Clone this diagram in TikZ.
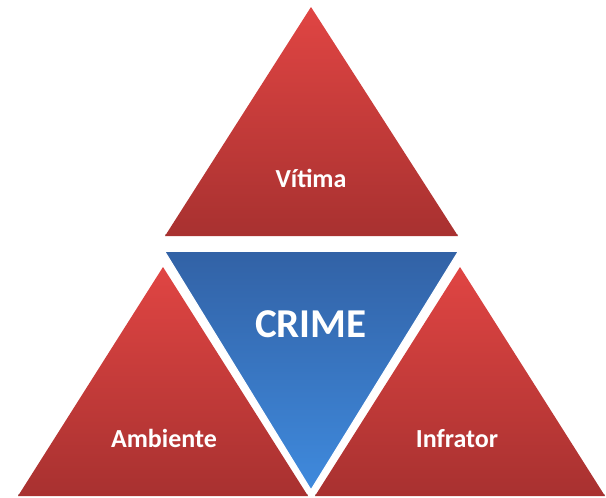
\documentclass[tikz,border=0pt]{standalone}
\usepackage{fontspec}
\setmainfont{Carlito}
\definecolor{redtop}{HTML}{E04543}
\definecolor{redbot}{HTML}{A83130}
\definecolor{bluetop}{HTML}{3262A6}
\definecolor{bluebot}{HTML}{3F8ADD}
\definecolor{shadowgray}{HTML}{B8B8B8}
\begin{document}
\begin{tikzpicture}[x=1pt,y=-1pt,
  redtri/.style={top color=redtop,bottom color=redbot},
  bluetri/.style={top color=bluetop,bottom color=bluebot},
  lbl/.style={text=white,font=\bfseries\fontsize{26}{30}\selectfont,anchor=base,inner sep=0pt},
  biglbl/.style={text=white,font=\bfseries\fontsize{41}{46}\selectfont,anchor=base,inner sep=0pt},
  shad/.style={draw=shadowgray,line width=1.5pt}]
\useasboundingbox (0,0) rectangle (606,498);
% coordinates
\coordinate (tA) at (311,7);
\coordinate (tL) at (165,236);
\coordinate (tR) at (458,236);
\coordinate (lA) at (163,267);
\coordinate (lL) at (18,496);
\coordinate (lR) at (308,496);
\coordinate (rA) at (460,267);
\coordinate (rL) at (315,496);
\coordinate (rR) at (605,496);
\coordinate (bL) at (165,252);
\coordinate (bR) at (458,252);
\coordinate (bA) at (311,490);
% shadows
\draw[shad] ([yshift=1.5]tL) -- ([yshift=1.5]tR);
\draw[shad] ([yshift=1]lL) -- ([yshift=1]lR);
\draw[shad] ([yshift=1]rL) -- ([yshift=1]rR);
% red triangles
\shade[redtri] (tA) -- (tR) -- (tL) -- cycle;
\shade[redtri] (lA) -- (lR) -- (lL) -- cycle;
\shade[redtri] (rA) -- (rR) -- (rL) -- cycle;
% blue triangle with white border
\draw[white,line width=3.5pt,line join=miter] (bL) -- (bR) -- (bA) -- cycle;
\shade[bluetri] (bL) -- (bR) -- (bA) -- cycle;
\draw[draw=white,line width=1.2pt] (bR) -- (bA) -- (bL);
% labels
\node[lbl] (vitima) at (311,187) {Vítima};
\node[lbl] (ambiente) at (164,447) {Ambiente};
\node[lbl] (infrator) at (457,447) {Infrator};
\node[biglbl] (crime) at (311,337) {CRIME};
\end{tikzpicture}
\end{document}
